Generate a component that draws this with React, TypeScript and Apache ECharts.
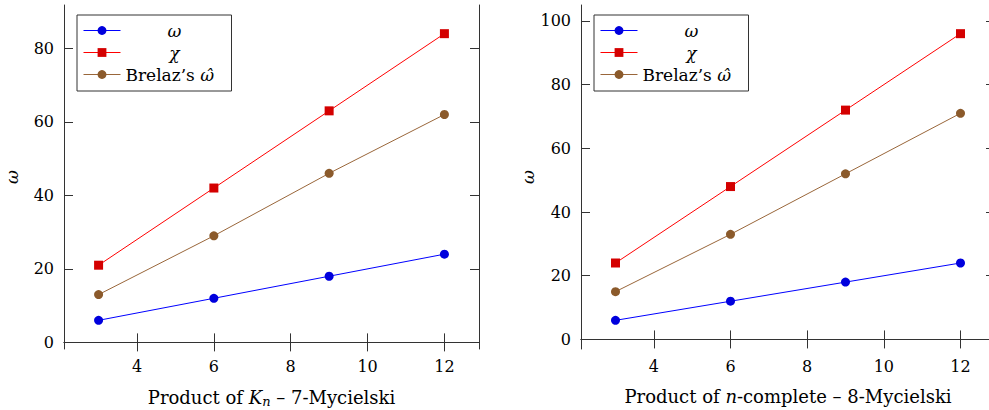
import React, { useEffect, useRef } from "react";
import * as echarts from "echarts";

const xValues = [3, 6, 9, 12];
const xTicks = [4, 6, 8, 10, 12];

const leftOmega = [6, 12, 18, 24];
const leftChi = [21, 42, 63, 84];
const leftBrelaz = [13, 29, 46, 62];
const leftYTicks = [0, 20, 40, 60, 80];

const rightOmega = [6, 12, 18, 24];
const rightChi = [24, 48, 72, 96];
const rightBrelaz = [15, 33, 52, 71];
const rightYTicks = [0, 20, 40, 60, 80, 100];

const NAME_OMEGA = "ω";
const NAME_CHI = "χ";
const NAME_BRELAZ = "Brelaz’s ω̂";

const FONT = "'DejaVu Serif', serif";
const AXIS_COLOR = "#333";

function enlarge(vals: number[]) {
  const mn = Math.min(...vals);
  const mx = Math.max(...vals);
  const pad = (mx - mn) * 0.1;
  return [mn - pad, mx + pad];
}

function pairs(ys: number[]) {
  return xValues.map((x, i) => [x, ys[i]]);
}

export default function App() {
  const ref = useRef<HTMLDivElement>(null);
  useEffect(() => {
    if (!ref.current) return;
    const chart = echarts.init(ref.current, undefined, { renderer: "svg" });
    const [xmin, xmax] = enlarge(xValues);
    const [lymin, lymax] = enlarge([...leftOmega, ...leftChi, ...leftBrelaz]);
    const [rymin, rymax] = enlarge([...rightOmega, ...rightChi, ...rightBrelaz]);

    const tickStyle = {
      show: true,
      inside: true,
      length: 9,
      lineStyle: { color: AXIS_COLOR, width: 1 },
    };
    const lineStyle = { show: true, lineStyle: { color: AXIS_COLOR, width: 1 } };

    const xAxisPair = (grid: number, name: string) => [
      {
        type: "value",
        gridIndex: grid,
        position: "bottom",
        min: xmin,
        max: xmax,
        axisLine: lineStyle,
        axisTick: { ...tickStyle, customValues: xTicks },
        axisLabel: {
          customValues: xTicks,
          color: "#000",
          fontFamily: FONT,
          fontSize: 16,
          margin: 9,
        },
        splitLine: { show: false },
        name,
        nameLocation: "middle",
        nameGap: 38,
        nameTextStyle: {
          color: "#000",
          fontFamily: FONT,
          fontSize: 18,
          rich: {
            i: { fontFamily: FONT, fontSize: 18, fontStyle: "italic", color: "#000" },
            s: {
              fontFamily: FONT,
              fontSize: 13,
              fontStyle: "italic",
              color: "#000",
              padding: [8, 0, 0, 0],
            },
          },
        },
      },
      {
        type: "value",
        gridIndex: grid,
        position: "top",
        min: xmin,
        max: xmax,
        axisLine: lineStyle,
        axisTick: { ...tickStyle, customValues: xTicks },
        axisLabel: { show: false },
        splitLine: { show: false },
      },
    ];

    const yAxisPair = (grid: number, mn: number, mx: number, ticks: number[]) => [
      {
        type: "value",
        gridIndex: grid,
        position: "left",
        min: mn,
        max: mx,
        axisLine: lineStyle,
        axisTick: { ...tickStyle, customValues: ticks },
        axisLabel: {
          customValues: ticks,
          color: "#000",
          fontFamily: FONT,
          fontSize: 16,
          margin: 10,
        },
        splitLine: { show: false },
        name: NAME_OMEGA,
        nameLocation: "middle",
        nameGap: 44,
        nameTextStyle: {
          color: "#000",
          fontFamily: FONT,
          fontSize: 17,
          fontStyle: "italic",
        },
      },
      {
        type: "value",
        gridIndex: grid,
        position: "right",
        min: mn,
        max: mx,
        axisLine: lineStyle,
        axisTick: { ...tickStyle, customValues: ticks },
        axisLabel: { show: false },
        splitLine: { show: false },
      },
    ];

    const mkSeries = (
      name: string,
      data: number[],
      axis: number,
      lineColor: string,
      markColor: string,
      symbol: string,
      size: number
    ) => ({
      type: "line",
      name,
      xAxisIndex: axis,
      yAxisIndex: axis,
      data: pairs(data),
      symbol,
      symbolSize: size,
      showSymbol: true,
      lineStyle: { color: lineColor, width: 1 },
      itemStyle: { color: markColor, borderWidth: 0 },
      emphasis: { disabled: true },
    });

    const BLUE_L = "#0000ff";
    const BLUE_M = "#0000dd";
    const RED_L = "#ff0000";
    const RED_M = "#d40000";
    const BR_L = "#99663a";
    const BR_M = "#8b5a2b";

    const legendBase = (left: number) => ({
      orient: "vertical",
      left,
      top: 15,
      backgroundColor: "#fff",
      borderColor: AXIS_COLOR,
      borderWidth: 1,
      borderRadius: 0,
      padding: [7, 8, 8, 6],
      itemGap: 5,
      itemWidth: 37,
      itemHeight: 11,
      lineStyle: { width: 1 },
      data: [NAME_OMEGA, NAME_CHI, NAME_BRELAZ],
      formatter: (n: string) =>
        n === NAME_BRELAZ ? "{r|Brelaz’s }{i|ω̂}" : `{c|${n}}`,
      textStyle: {
        fontFamily: FONT,
        fontSize: 17,
        color: "#000",
        lineHeight: 17,
        rich: {
          c: {
            fontFamily: FONT,
            fontSize: 17,
            fontStyle: "italic",
            width: 98,
            align: "center",
            color: "#000",
            lineHeight: 17,
          },
          r: { fontFamily: FONT, fontSize: 17, color: "#000", lineHeight: 17 },
          i: {
            fontFamily: FONT,
            fontSize: 17,
            fontStyle: "italic",
            color: "#000",
            lineHeight: 17,
          },
        },
      },
    });

    chart.setOption({
      animation: false,
      grid: [
        { left: 64, right: 510, top: 5, bottom: 61, containLabel: false, outerBoundsMode: "none" },
        { left: 581, right: -6, top: 5, bottom: 61, containLabel: false, outerBoundsMode: "none" },
      ],
      xAxis: [
        ...xAxisPair(0, "Product of {i|K}{s|n} – 7-Mycielski"),
        ...xAxisPair(1, "Product of {i|n}-complete – 8-Mycielski"),
      ],
      yAxis: [
        ...yAxisPair(0, lymin, lymax, leftYTicks),
        ...yAxisPair(1, rymin, rymax, rightYTicks),
      ],
      legend: [legendBase(77), legendBase(594)],
      series: [
        mkSeries(NAME_OMEGA, leftOmega, 0, BLUE_L, BLUE_M, "circle", 9),
        mkSeries(NAME_CHI, leftChi, 0, RED_L, RED_M, "rect", 9),
        mkSeries(NAME_BRELAZ, leftBrelaz, 0, BR_L, BR_M, "circle", 9),
        mkSeries(NAME_OMEGA, rightOmega, 2, BLUE_L, BLUE_M, "circle", 9),
        mkSeries(NAME_CHI, rightChi, 2, RED_L, RED_M, "rect", 9),
        mkSeries(NAME_BRELAZ, rightBrelaz, 2, BR_L, BR_M, "circle", 9),
      ],
    });
    return () => chart.dispose();
  }, []);
  return (
    <div
      ref={ref}
      style={{ position: "absolute", left: 0, top: 0, width: 989, height: 410 }}
    />
  );
}
